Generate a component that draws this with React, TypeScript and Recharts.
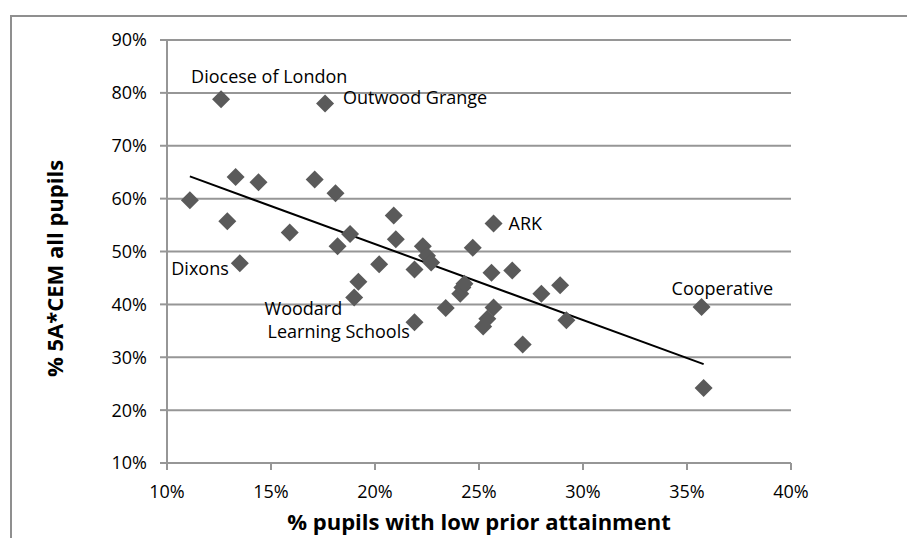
import React from "react";
import {
  ScatterChart,
  Scatter,
  XAxis,
  YAxis,
  CartesianGrid,
  ReferenceLine,
  Label,
} from "recharts";

// % pupils with low prior attainment
const lowPriorPct = [
  12.6, 17.6, 11.1, 13.3, 14.4, 12.9, 17.1, 18.1, 15.9, 18.8, 18.2, 20.9, 21.0,
  22.3, 22.5, 22.7, 20.2, 21.9, 13.5, 24.7, 25.7, 25.6, 26.6, 19.2, 19.0, 21.9,
  23.4, 24.1, 24.2, 24.3, 25.7, 25.4, 25.2, 28.0, 28.9, 29.2, 27.1, 35.7, 35.8,
];
// % 5A*CEM all pupils
const fiveACEMPct = [
  78.8, 78.0, 59.7, 64.1, 63.1, 55.7, 63.6, 61.0, 53.6, 53.3, 51.0, 56.8, 52.3,
  51.0, 49.2, 47.9, 47.6, 46.6, 47.8, 50.7, 55.3, 46.0, 46.4, 44.3, 41.3, 36.6,
  39.3, 42.0, 43.2, 43.9, 39.4, 37.3, 35.8, 42.0, 43.6, 37.0, 32.4, 39.5, 24.2,
];
// sponsor names (blank = unlabeled)
const sponsorNames = [
  "Diocese of London", "Outwood Grange", "", "", "", "", "", "", "", "", "", "", "",
  "", "", "", "", "", "Dixons", "", "ARK", "", "", "", "", "Woodard Learning Schools",
  "", "", "", "", "", "", "", "", "", "", "", "Cooperative", "",
];
// linear trend line end points
const trendX = [11.1, 35.8];
const trendY = [64.2, 28.7];

const xTicks = [10, 15, 20, 25, 30, 35, 40];
const yTicks = [10, 20, 30, 40, 50, 60, 70, 80, 90];

const points = lowPriorPct.map((x, i) => ({
  x,
  y: fiveACEMPct[i],
  name: sponsorNames[i],
}));
const trendSegment = trendX.map((x, i) => ({ x, y: trendY[i] }));

const FONT = "'Open Sans', sans-serif";
const GRAY = "#969696";
const MARK = "#5a5a5a";

// label placement relative to marker centre (style only)
type LineSpec = { text: string; dx: number; dy: number };
const labelStyle: Record<string, { anchor: "start" | "end"; lines: LineSpec[] }> = {
  "Diocese of London": { anchor: "start", lines: [{ text: "Diocese of London", dx: -30, dy: -23 }] },
  "Outwood Grange": { anchor: "start", lines: [{ text: "Outwood Grange", dx: 18, dy: -6 }] },
  ARK: { anchor: "start", lines: [{ text: "ARK", dx: 15, dy: 0 }] },
  Dixons: { anchor: "end", lines: [{ text: "Dixons", dx: -11, dy: 5 }] },
  "Woodard Learning Schools": {
    anchor: "start",
    lines: [
      { text: "Woodard", dx: -150, dy: -14 },
      { text: "Learning Schools", dx: -147, dy: 9 },
    ],
  },
  Cooperative: { anchor: "start", lines: [{ text: "Cooperative", dx: -30, dy: -19 }] },
};

const DiamondWithLabel = (props: any) => {
  const { cx, cy, payload } = props;
  if (cx == null || cy == null) return null;
  const r = 9;
  const st = payload && payload.name ? labelStyle[payload.name] : undefined;
  return (
    <g>
      <path
        d={`M${cx},${cy - r}L${cx + r},${cy}L${cx},${cy + r}L${cx - r},${cy}Z`}
        fill={MARK}
      />
      {st &&
        st.lines.map((ln, k) => (
          <text
            key={k}
            x={cx + ln.dx}
            y={cy + ln.dy}
            textAnchor={st.anchor}
            dominantBaseline="central"
            fontFamily={FONT}
            fontSize={18}
            fill="#000"
          >
            {ln.text}
          </text>
        ))}
    </g>
  );
};

const YTitle = (props: any) => {
  const vb = props.viewBox || { x: 0, y: 40, width: 167, height: 423 };
  const cx = 63;
  const cy = vb.y + vb.height / 2 + 17;
  return (
    <text
      x={cx}
      y={cy}
      transform={`rotate(-90, ${cx}, ${cy})`}
      textAnchor="middle"
      fontFamily={FONT}
      fontWeight="bold"
      fontSize={22}
      fill="#000"
    >
      % 5A*CEM all pupils
    </text>
  );
};

const XTitle = (props: any) => {
  const vb = props.viewBox || { x: 167, y: 463, width: 624, height: 75 };
  const cx = vb.x + vb.width / 2;
  return (
    <text
      x={cx}
      y={530}
      textAnchor="middle"
      fontFamily={FONT}
      fontWeight="bold"
      fontSize={22}
      fill="#000"
    >
      % pupils with low prior attainment
    </text>
  );
};

export default function App() {
  return (
    <div style={{ position: "absolute", left: 0, top: 0, width: 907, height: 538, background: "#fff", overflow: "hidden" }}>
      <div
        style={{
          position: "absolute",
          left: 10,
          top: 15,
          width: 1000,
          height: 600,
          borderLeft: "2px solid #8f8f8f",
          borderTop: "2px solid #8f8f8f",
          boxSizing: "border-box",
        }}
      />
      <div style={{ position: "absolute", left: 0, top: 0 }}>
        <ScatterChart
          width={907}
          height={538}
          margin={{ top: 40, right: 116, bottom: 0, left: 0 }}
        >
          <CartesianGrid horizontal vertical={false} stroke={GRAY} strokeWidth={2} />
          <XAxis
            type="number"
            dataKey="x"
            domain={[10, 40]}
            ticks={xTicks}
            tickFormatter={(v: number) => `${v}%`}
            height={75}
            tickSize={7}
            tickMargin={15}
            stroke={GRAY}
            strokeWidth={2}
            tick={{ fill: "#000", fontSize: 18, fontFamily: FONT }}
            allowDataOverflow
          >
            <Label content={<XTitle />} />
          </XAxis>
          <YAxis
            type="number"
            dataKey="y"
            domain={[10, 90]}
            ticks={yTicks}
            tickFormatter={(v: number) => `${v}%`}
            width={167}
            tickSize={7}
            tickMargin={13}
            stroke={GRAY}
            strokeWidth={2}
            tick={{ fill: "#000", fontSize: 18, fontFamily: FONT }}
            allowDataOverflow
          >
            <Label content={<YTitle />} />
          </YAxis>
          <ReferenceLine
            segment={trendSegment}
            stroke="#000"
            strokeWidth={2}
            ifOverflow="visible"
          />
          <Scatter
            data={points}
            shape={<DiamondWithLabel />}
            isAnimationActive={false}
          />
        </ScatterChart>
      </div>
    </div>
  );
}
